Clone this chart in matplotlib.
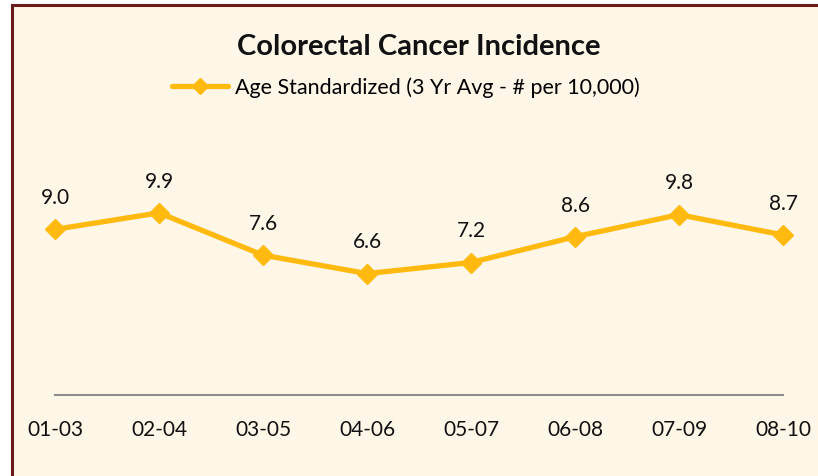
import matplotlib
matplotlib.use("Agg")
import matplotlib.pyplot as plt
from matplotlib.patches import Rectangle

# data
periods = ["01-03", "02-04", "03-05", "04-06", "05-07", "06-08", "07-09", "08-10"]
rates = [9.0, 9.9, 7.6, 6.6, 7.2, 8.6, 9.8, 8.7]

LINE = "#FFB90F"
BG = "#FEF7E8"
BORDER = "#6B1A1A"

plt.rcParams["font.family"] = ["Lato", "DejaVu Sans"]

fig = plt.figure(figsize=(8.18, 4.77), dpi=100, facecolor="white")

# chart frame (cropped on right/bottom in the reference)
fig.patches.append(Rectangle((11.5 / 818, -0.2), 1.2, 1.2 - 5.5 / 477,
                             transform=fig.transFigure, facecolor=BG,
                             edgecolor=BORDER, linewidth=2.2, zorder=-10))

ax = fig.add_axes([55 / 818, 1 - 396 / 477, (783 - 55) / 818, 12 * 18.4 / 477])
ax.set_facecolor("none")
x = list(range(len(periods)))
ax.plot(x, rates, color=LINE, linewidth=3.8, marker="D", markersize=10,
        markeredgecolor=LINE, markerfacecolor=LINE, solid_capstyle="round",
        label="Age Standardized (3 Yr Avg - # per 10,000)", clip_on=False)
for xi, v in zip(x, rates):
    ax.annotate(f"{v:.1f}", (xi, v), xytext=(0, 16), textcoords="offset points",
                ha="center", va="bottom", fontsize=15, color="#111111")

ax.set_xlim(0, len(periods) - 1)
ax.set_ylim(0, 12)
ax.set_xticks(x)
ax.set_xticklabels(periods, fontsize=15, color="#111111")
ax.tick_params(axis="x", length=0, pad=17)
ax.set_yticks([])
for s in ["top", "right", "left"]:
    ax.spines[s].set_visible(False)
ax.spines["bottom"].set_color("#8C8C8C")
ax.spines["bottom"].set_linewidth(1.5)

fig.text(419 / 818, 1 - 47 / 477, "Colorectal Cancer Incidence", ha="center",
         va="center", fontsize=21, fontweight="bold", color="#111111")
leg = fig.legend(loc="center", bbox_to_anchor=(406 / 818, 1 - 88 / 477),
                 frameon=False, fontsize=15.5, handlelength=2.6,
                 handletextpad=0.3, markerscale=0.8)

fig.savefig("out.png", dpi=100, facecolor="white")
